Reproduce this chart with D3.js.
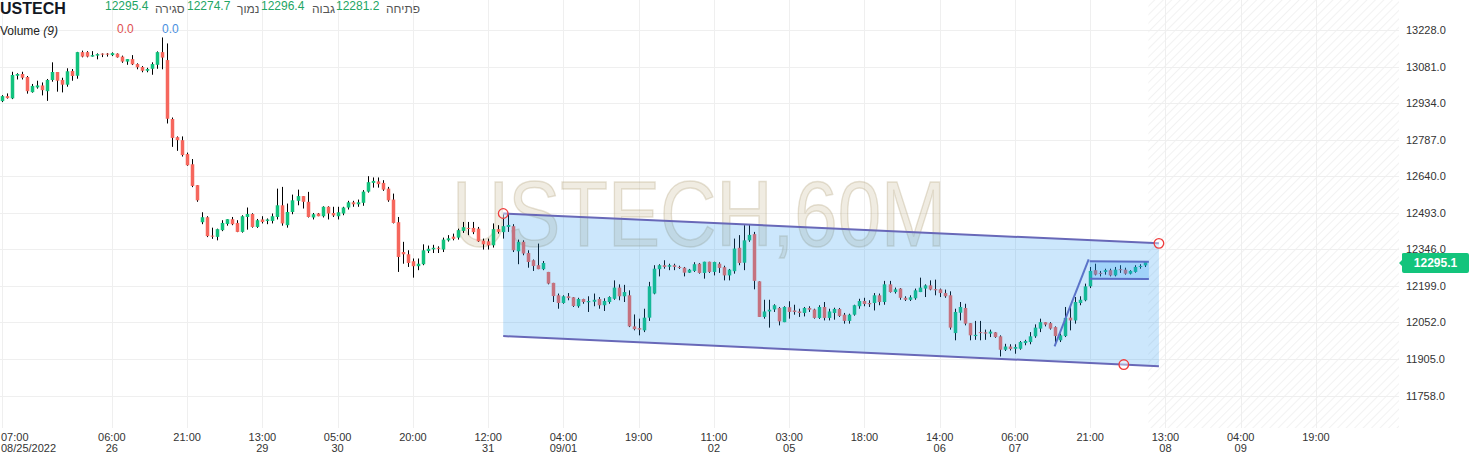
<!DOCTYPE html>
<html><head><meta charset="utf-8">
<script src="https://cdn.jsdelivr.net/npm/d3@7"></script>
<style>
html,body{margin:0;padding:0;background:#fff;overflow:hidden}
svg{display:block;font-family:"Liberation Sans",Arial,"DejaVu Sans",sans-serif}
</style></head><body>
<svg id="c" width="1469" height="456"></svg>
<script>
// ---------- DATA ----------
const opens = [
12942,12962,12953,13044,13051,13039,12978,12997,13005,12982,
13027,13059,13027,13008,13063,13044,13139,13139,13121,13125,
13133,13133,13127,13133,13121,13101,13111,13091,13079,13064,
13072,13088,13139,13107,12870,12797,12785,12729,12688,12604,
12455,12475,12401,12396,12423,12448,12467,12452,12416,12476,
12488,12436,12466,12460,12460,12476,12523,12443,12496,12541,
12560,12537,12474,12490,12479,12517,12492,12479,12490,12514,
12535,12527,12533,12578,12613,12619,12613,12590,12546,12455,
12335,12326,12298,12278,12286,12339,12346,12352,12345,12382,
12397,12393,12420,12432,12432,12429,12381,12378,12362,12427,
12415,12436,12439,12338,12376,12331,12302,12282,12266,12255,
12211,12161,12130,12157,12153,12117,12146,12133,12135,12146,
12121,12134,12147,12192,12157,12161,12036,12029,12020,12071,
12168,12266,12282,12276,12282,12275,12272,12252,12259,12288,
12251,12296,12255,12288,12274,12241,12258,12352,12292,12382,
12407,12217,12074,12096,12104,12110,12053,12113,12100,12096,
12090,12110,12104,12070,12114,12070,12090,12106,12083,12058,
12083,12117,12138,12130,12130,12161,12134,12205,12174,12188,
12151,12143,12149,12174,12188,12201,12186,12185,12170,12161,
12009,12091,12110,12049,11997,12013,12012,12007,12012,11996,
11942,11955,11946,11946,11969,11973,11996,12027,12053,12049,
12033,11980,11997,12071,12060,12130,12141,12197,12262,12251,
12255,12262,12241,12266,12264,12248,12255,12275,12281.2];
const highs = [
12966,12973,13060,13054,13060,13043,13011,13024,13017,13031,
13098,13059,13036,13074,13071,13140,13145,13143,13143,13134,
13134,13135,13138,13134,13125,13111,13127,13094,13083,13076,
13098,13142,13198,13174,12876,12800,12800,12735,12709,12604,
12495,12479,12433,12429,12463,12467,12476,12463,12483,12514,
12491,12468,12479,12470,12490,12590,12597,12530,12566,12586,
12560,12577,12492,12492,12519,12519,12517,12517,12517,12541,
12541,12546,12584,12640,12635,12635,12624,12597,12570,12476,
12376,12342,12309,12309,12366,12361,12364,12358,12393,12403,
12409,12429,12456,12456,12456,12436,12389,12389,12450,12443,
12487,12492,12447,12385,12382,12342,12305,12369,12299,12255,
12211,12168,12161,12170,12154,12151,12147,12157,12168,12154,
12149,12157,12221,12205,12203,12181,12084,12067,12107,12215,
12282,12286,12302,12288,12288,12280,12275,12267,12294,12291,
12296,12296,12296,12294,12280,12267,12389,12403,12443,12447,
12416,12217,12143,12143,12125,12114,12117,12137,12123,12107,
12114,12117,12107,12121,12134,12107,12111,12110,12090,12087,
12123,12147,12151,12141,12170,12168,12219,12219,12192,12190,
12157,12161,12188,12232,12205,12221,12224,12188,12184,12177,
12107,12134,12127,12049,12058,12058,12023,12023,12013,12000,
11966,11964,11964,11977,11982,12013,12044,12067,12053,12053,
12036,12007,12114,12114,12154,12157,12208,12275,12288,12259,
12268,12268,12275,12282,12272,12262,12282,12286,12296.4];
const lows = [
12938,12952,12950,13029,13029,12972,12976,12992,12965,12943,
13020,12980,12977,13000,13024,13032,13118,13118,13121,13110,
13119,13121,13123,13117,13096,13088,13087,13070,13058,13058,
13048,13072,13070,12852,12758,12742,12719,12682,12596,12537,
12447,12395,12388,12382,12419,12441,12443,12415,12413,12425,
12433,12432,12450,12447,12450,12466,12441,12433,12487,12523,
12510,12474,12466,12479,12474,12466,12476,12466,12483,12506,
12517,12517,12521,12574,12594,12594,12581,12537,12450,12255,
12288,12275,12232,12262,12282,12331,12331,12331,12335,12377,
12382,12385,12412,12403,12407,12376,12345,12345,12353,12409,
12389,12416,12335,12286,12322,12272,12259,12266,12262,12205,
12134,12107,12127,12141,12114,12111,12127,12094,12117,12107,
12098,12127,12143,12141,12134,12033,12020,12000,12013,12058,
12165,12237,12268,12262,12262,12267,12237,12251,12255,12248,
12228,12251,12241,12251,12221,12221,12248,12282,12262,12376,
12185,12074,12067,12031,12094,12040,12053,12067,12083,12074,
12076,12094,12067,12066,12060,12060,12063,12074,12047,12047,
12079,12107,12117,12114,12100,12121,12123,12172,12168,12143,
12138,12138,12143,12174,12154,12181,12161,12154,12151,12023,
11980,12060,12040,11980,11982,11980,11982,11993,11990,11915,
11937,11939,11926,11942,11960,11964,11990,12013,12036,12023,
11969,11973,11993,12020,12047,12121,12137,12190,12241,12237,
12244,12237,12237,12251,12244,12245,12252,12268,12274.7];
const closes = [
12962,12954,13047,13051,13036,12982,13003,13005,12986,13027,
13059,13024,13008,13062,13043,13139,13121,13121,13127,13131,
13129,13129,13135,13118,13101,13111,13090,13078,13064,13071,
13091,13139,13117,12871,12794,12785,12725,12684,12601,12543,
12475,12399,12399,12427,12452,12467,12447,12416,12479,12488,
12436,12463,12456,12466,12479,12523,12450,12496,12543,12560,
12537,12476,12487,12479,12517,12490,12482,12495,12514,12535,
12527,12535,12578,12616,12621,12608,12586,12543,12452,12315,
12326,12291,12278,12288,12342,12348,12352,12348,12385,12390,
12388,12423,12435,12428,12415,12378,12366,12362,12427,12416,
12439,12444,12342,12376,12329,12295,12279,12266,12291,12208,
12158,12130,12157,12150,12118,12146,12134,12138,12143,12121,
12138,12154,12192,12157,12174,12036,12025,12023,12071,12197,
12268,12282,12275,12282,12275,12271,12252,12264,12286,12251,
12296,12255,12295,12271,12241,12264,12349,12291,12382,12404,
12219,12074,12096,12103,12121,12056,12114,12094,12094,12090,
12110,12103,12070,12114,12070,12096,12106,12078,12058,12083,
12121,12138,12126,12125,12161,12134,12205,12174,12185,12151,
12143,12153,12181,12192,12201,12184,12181,12170,12157,12031,
12094,12114,12047,12000,12002,12009,12007,12015,11993,11942,
11955,11945,11953,11973,11977,11996,12031,12053,12043,12027,
11997,12000,12070,12060,12134,12143,12197,12259,12244,12248,
12262,12241,12264,12262,12248,12259,12275,12279,12295.4];

const priceTicks = [13228,13081,12934,12787,12640,12493,12346,12199,12052,11905,11758];
const timeTickIndex = [0,22,37,52,67,82,97,112,127,142,157,172,187,202,217,232,247,262];
const timeTickTime = ["07:00","06:00","21:00","13:00","05:00","20:00","12:00","04:00","19:00","11:00","03:00","18:00","14:00","06:00","21:00","13:00","04:00","19:00"];
const timeTickDate = ["08/25/2022","26","","29","30","","31","09/01","","02","05","","06","07","","08","09",""];

const symbol = "USTECH";
const headerValues = ["12295.4","12274.7","12296.4","12281.2"];
const headerLabels = ["סגירה","נמוך","גבוה","פתיחה"];
const lastPrice = 12295.1;
const watermark = "USTECH,60M";

// drawings (bar index, price)
const channelTop = [[100, 12490], [230.7, 12370]];
const channelBottom = [[100, 11997], [230.7, 11876]];
const channelHandles = [[100, 12490], [230.7, 12370], [223.7, 11882.5]];
const flagPole = [[209.9, 11955.5], [216.7, 12305.8]];
const flagTop = [[216.9, 12298], [228.7, 12296]];
const flagBottom = [[216.9, 12228], [228.7, 12227]];

// ---------- CHART ----------
const svg = d3.select("#c");
const W = 1469, H = 456;
const plotRight = 1399, plotBottom = 428;
const x = d3.scaleLinear().domain([0, 262]).range([1.5, 1.5 + 262 * 5.017]);
const y = d3.scaleLinear().domain([11758, 13228]).range([395.5, 30]);

const defs = svg.append("defs");
const pat = defs.append("pattern").attr("id", "hatch").attr("width", 6).attr("height", 6)
  .attr("patternUnits", "userSpaceOnUse").attr("patternTransform", "rotate(45)");
pat.append("line").attr("x1", 0).attr("y1", 0).attr("x2", 0).attr("y2", 6)
  .attr("stroke", "#e9e9e9").attr("stroke-width", 1.2);

// hatch future area
const lastIdx = closes.length - 1;
svg.append("rect").attr("x", x(lastIdx) + 3).attr("y", 0)
  .attr("width", plotRight - x(lastIdx) - 3).attr("height", plotBottom)
  .attr("fill", "url(#hatch)");

// grid
const grid = svg.append("g");
grid.selectAll("line.h").data(priceTicks).join("line").attr("class", "h")
  .attr("x1", 0).attr("x2", plotRight)
  .attr("y1", d => Math.round(y(d)) + 0.5).attr("y2", d => Math.round(y(d)) + 0.5)
  .attr("stroke", "#efefef").attr("stroke-width", 1);
grid.selectAll("line.v").data(timeTickIndex).join("line").attr("class", "v")
  .attr("x1", d => Math.round(x(d)) + 0.5).attr("x2", d => Math.round(x(d)) + 0.5)
  .attr("y1", 0).attr("y2", plotBottom)
  .attr("stroke", "#efefef").attr("stroke-width", 1);

// watermark
svg.append("text").attr("x", 452).attr("y", 246)
  .attr("font-size", 92).attr("textLength", 494).attr("lengthAdjust", "spacingAndGlyphs")
  .attr("fill", "rgba(200,188,150,0.28)").attr("stroke", "rgba(175,160,120,0.30)").attr("stroke-width", 1.5)
  .text(watermark);

// candles
const idx = d3.range(closes.length);
const cg = svg.append("g");
cg.selectAll("line.w").data(idx).join("line").attr("class", "w")
  .attr("x1", i => Math.round(x(i)) + 0.5).attr("x2", i => Math.round(x(i)) + 0.5)
  .attr("y1", i => y(highs[i])).attr("y2", i => y(lows[i]))
  .attr("stroke", "#000").attr("stroke-width", 1);
cg.selectAll("rect.b").data(idx).join("rect").attr("class", "b")
  .attr("x", i => Math.round(x(i)) + 0.5 - 1.75).attr("width", 3.5)
  .attr("y", i => y(Math.max(opens[i], closes[i])))
  .attr("height", i => Math.max(1, Math.abs(y(opens[i]) - y(closes[i]))))
  .attr("fill", i => closes[i] >= opens[i] ? "#12c27d" : "#f6675d");

// channel drawing
const pt = d => [x(d[0]), y(d[1])];
const chPoly = [channelTop[0], channelTop[1], channelBottom[1], channelBottom[0]].map(pt);
svg.append("polygon").attr("points", chPoly.map(p => p.join(",")).join(" "))
  .attr("fill", "rgba(33,150,243,0.23)");
const line = d3.line().x(d => x(d[0])).y(d => y(d[1]));
[channelTop, channelBottom].forEach(l => svg.append("path").attr("d", line(l))
  .attr("fill", "none").attr("stroke", "#6868b8").attr("stroke-width", 2));

// flag
const flPoly = [flagTop[0], flagTop[1], flagBottom[1], flagBottom[0]].map(pt);
svg.append("polygon").attr("points", flPoly.map(p => p.join(",")).join(" "))
  .attr("fill", "rgba(33,150,243,0.25)");
[flagTop, flagBottom].forEach(l => svg.append("path").attr("d", line(l))
  .attr("fill", "none").attr("stroke", "#5b6fc6").attr("stroke-width", 2));
svg.append("path").attr("d", line(flagPole)).attr("fill", "none")
  .attr("stroke", "#5b73c9").attr("stroke-width", 2);

// handles
svg.selectAll("circle.hd").data(channelHandles).join("circle").attr("class", "hd")
  .attr("cx", d => x(d[0])).attr("cy", d => y(d[1])).attr("r", 4.8)
  .attr("fill", "rgba(255,255,255,0.4)").attr("stroke", "#ef3b3b").attr("stroke-width", 1.3);

// price axis labels
svg.append("g").selectAll("text").data(priceTicks).join("text")
  .attr("x", 1406).attr("y", d => y(d) + 4)
  .attr("font-size", 11).attr("fill", "#333").text(d => d.toFixed(1));

// last price label
const ly = y(lastPrice);
svg.append("path")
  .attr("d", `M1399,${ly + 1} L1402,${ly - 2} L1402,${ly - 8} Q1402,${ly - 9} 1404,${ly - 9} L1467,${ly - 9} Q1469,${ly - 9} 1469,${ly - 7} L1469,${ly + 9} Q1469,${ly + 11} 1467,${ly + 11} L1404,${ly + 11} Q1402,${ly + 11} 1402,${ly + 9} L1402,${ly + 4} Z`)
  .attr("fill", "#13c47c");
svg.append("text").attr("x", 1435.5).attr("y", ly + 5.5).attr("text-anchor", "middle")
  .attr("font-size", 12).attr("font-weight", "bold").attr("fill", "#fff").text(lastPrice.toFixed(1));

// time axis labels
const tg = svg.append("g");
function clampText(sel) {
  sel.each(function () {
    const b = this.getBBox();
    if (b.x < 1) d3.select(this).attr("x", +d3.select(this).attr("x") + (1 - b.x));
  });
}
tg.selectAll("text.t1").data(timeTickIndex).join("text").attr("class", "t1")
  .attr("x", d => x(d)).attr("y", 441).attr("text-anchor", "middle")
  .attr("font-size", 11).attr("fill", "#333").text((d, i) => timeTickTime[i]).call(clampText);
tg.selectAll("text.t2").data(timeTickIndex).join("text").attr("class", "t2")
  .attr("x", d => x(d)).attr("y", 452).attr("text-anchor", "middle")
  .attr("font-size", 11).attr("fill", "#333").text((d, i) => timeTickDate[i]).call(clampText);

// header
svg.append("text").attr("x", 0).attr("y", 13.5).attr("font-size", 16).attr("font-weight", "bold")
  .attr("fill", "#131722").text(symbol);
const valX = [105, 187, 261, 336];
const labX = [155, 237, 312, 386];
headerValues.forEach((v, i) => {
  svg.append("text").attr("x", valX[i]).attr("y", 10).attr("font-size", 12).attr("fill", "#22a564").text(v);
  svg.append("text").attr("x", labX[i]).attr("y", 13).attr("font-size", 12).attr("fill", "#555")
    .attr("direction", "ltr").text(headerLabels[i]);
});
const vol = svg.append("text").attr("x", 0).attr("y", 34.5).attr("font-size", 12).attr("fill", "#222");
vol.append("tspan").text("Volume ");
vol.append("tspan").attr("font-style", "italic").text("(9)");
svg.append("text").attr("x", 117).attr("y", 32.5).attr("font-size", 12).attr("fill", "#e04f4f").text("0.0");
svg.append("text").attr("x", 162).attr("y", 32.5).attr("font-size", 12).attr("fill", "#4a8fe0").text("0.0");
</script>
</body></html>
